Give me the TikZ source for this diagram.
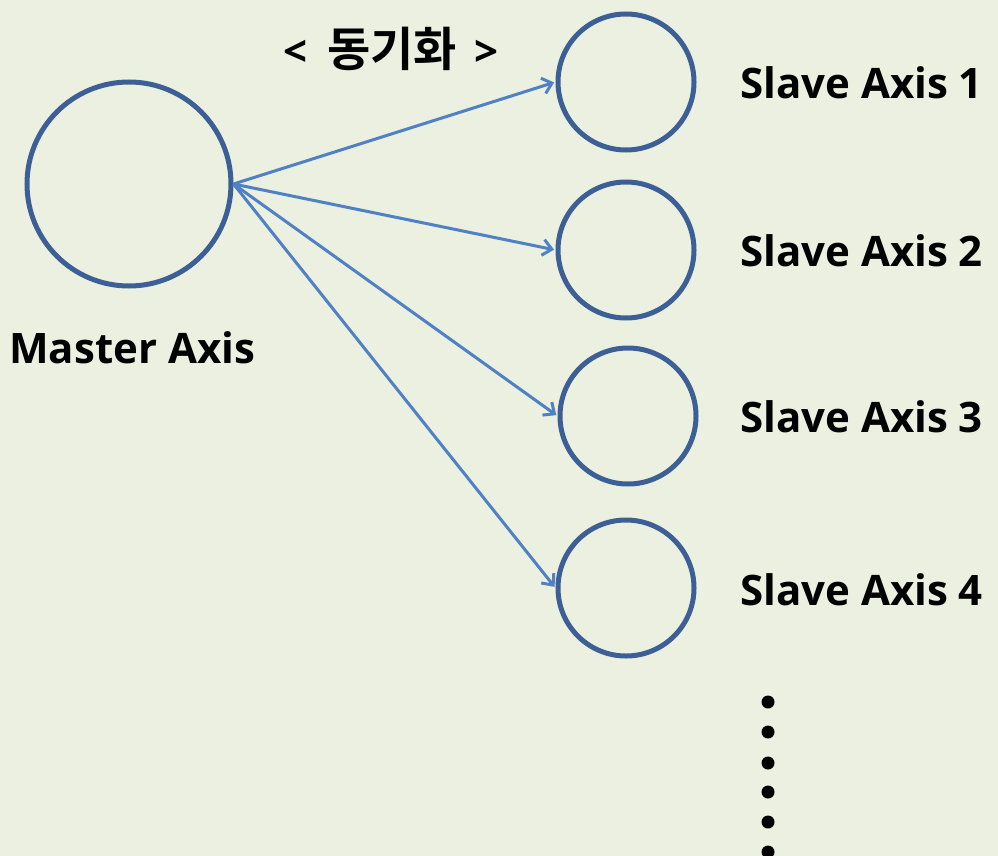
\documentclass[tikz,border=0pt]{standalone}
\usepackage{fontspec}
\setmainfont{Open Sans}
\newfontfamily\kofont{Noto Sans CJK KR}[BoldFont={* Bold}]
\usetikzlibrary{arrows.meta}
\definecolor{bg}{HTML}{EBF0E0}
\definecolor{ring}{HTML}{3C6095}
\definecolor{arr}{HTML}{4F81C4}
\begin{document}
\begin{tikzpicture}[x=1pt,y=-1pt,
  ax/.style={circle,draw=ring,line width=5pt,inner sep=0pt},
  lab/.style={font=\bfseries\fontsize{42}{46}\selectfont,inner sep=0pt},
  link/.style={draw=arr,line width=3pt,-{Straight Barb[length=9pt,width=16pt,line width=3pt]},shorten >=1.5pt},
  dotm/.style={circle,fill=black,inner sep=0pt,minimum size=13pt}]
\fill[bg] (0,0) rectangle (998,856);
\useasboundingbox (0,0) rectangle (998,856);
\node[ax,minimum size=204pt] (m) at (129,184) {};
\node[ax,minimum size=136pt] (s1) at (626,82) {};
\node[ax,minimum size=136pt] (s2) at (626,250) {};
\node[ax,minimum size=136pt] (s3) at (628,416) {};
\node[ax,minimum size=136pt] (s4) at (626,588) {};
\node[lab,anchor=base west] (ml) at (9,363) {Master Axis};
\node[lab,anchor=base] (sync) at (391,67) {<\hspace{20pt}{\kofont\bfseries\fontsize{47}{50}\selectfont 동기화}\hspace{18pt}>};
\node[lab,anchor=base west] (l1) at (740,99) {Slave Axis 1};
\node[lab,anchor=base west] (l2) at (740,266) {Slave Axis 2};
\node[lab,anchor=base west] (l3) at (740,432) {Slave Axis 3};
\node[lab,anchor=base west] (l4) at (740,605) {Slave Axis 4};
\draw[link] (m.east) -- (s1.west);
\draw[link] (m.east) -- (s2.west);
\draw[link] (m.east) -- (s3.west);
\draw[link] (m.east) -- (s4.west);
\foreach \i/\y in {1/702,2/732,3/763,4/792,5/822,6/852}
  \node[dotm] (d\i) at (768,\y) {};
\end{tikzpicture}
\end{document}
